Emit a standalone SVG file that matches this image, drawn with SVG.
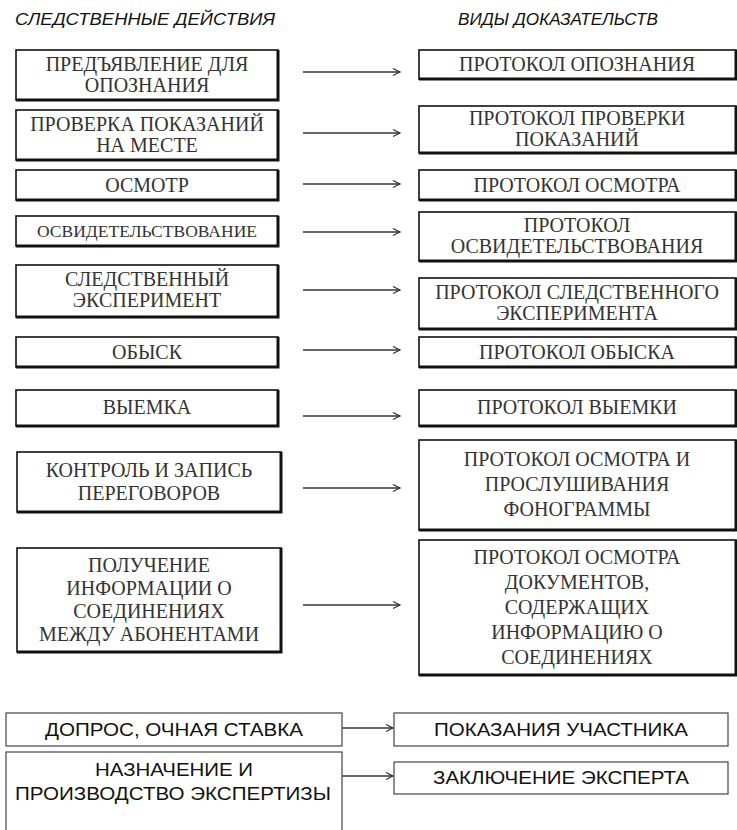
<svg xmlns="http://www.w3.org/2000/svg" width="737" height="830" viewBox="0 0 737 830">
<defs>
<marker id="ah" markerWidth="10" markerHeight="10" refX="8" refY="4" orient="auto" markerUnits="userSpaceOnUse">
<path d="M1,0.5 L8,4 L1,7.5" fill="none" stroke="#333" stroke-width="1.2"/>
</marker>
</defs>
<style>
.bx{fill:#fff;stroke:#111;stroke-width:1.6}
.sh{fill:none;stroke:#111;stroke-width:3}
.bx2{fill:#fff;stroke:#444;stroke-width:1.2}
.t{font-family:"Liberation Serif","Times New Roman",serif;font-size:20px;fill:#333;text-anchor:middle}
.s{font-family:"Liberation Sans",Arial,sans-serif;font-size:18px;fill:#111;text-anchor:middle}
.h{font-family:"Liberation Sans",Arial,sans-serif;font-size:17px;font-style:italic;fill:#111}
.c{stroke:#333;stroke-width:1.3;fill:none;marker-end:url(#ah)}
</style>
<rect width="737" height="830" fill="#fff"/>
<text class="h" x="15" y="25" textLength="260" lengthAdjust="spacingAndGlyphs">СЛЕДСТВЕННЫЕ ДЕЙСТВИЯ</text>
<text class="h" x="458" y="25" textLength="200" lengthAdjust="spacingAndGlyphs">ВИДЫ ДОКАЗАТЕЛЬСТВ</text>

<g id="connectors">
<line class="c" x1="303" y1="72" x2="400" y2="72"/>
<line class="c" x1="303" y1="133" x2="400" y2="133"/>
<line class="c" x1="303" y1="184" x2="400" y2="184"/>
<line class="c" x1="303" y1="232" x2="400" y2="232"/>
<line class="c" x1="303" y1="290" x2="400" y2="290"/>
<line class="c" x1="303" y1="350" x2="400" y2="350"/>
<line class="c" x1="303" y1="416" x2="400" y2="416"/>
<line class="c" x1="303" y1="488" x2="400" y2="488"/>
<line class="c" x1="303" y1="605" x2="400" y2="605"/>
<line class="c" x1="342" y1="728" x2="393" y2="728"/>
<line class="c" x1="342" y1="776" x2="393" y2="776"/>
</g>

<g id="l1"><rect class="bx" x="16" y="50" width="262" height="50"/><path class="sh" d="M278,50 V100 H16"/>
<text class="t" x="147" y="71">ПРЕДЪЯВЛЕНИЕ ДЛЯ</text><text class="t" x="147" y="92">ОПОЗНАНИЯ</text></g>
<g id="r1"><rect class="bx" x="419" y="50" width="317" height="29"/><path class="sh" d="M736,50 V79 H419"/>
<text class="t" x="577" y="71">ПРОТОКОЛ ОПОЗНАНИЯ</text></g>

<g id="l2"><rect class="bx" x="16" y="110" width="262" height="50"/><path class="sh" d="M278,110 V160 H16"/>
<text class="t" x="147" y="131">ПРОВЕРКА ПОКАЗАНИЙ</text><text class="t" x="147" y="152">НА МЕСТЕ</text></g>
<g id="r2"><rect class="bx" x="419" y="106" width="317" height="47"/><path class="sh" d="M736,106 V153 H419"/>
<text class="t" x="577" y="125">ПРОТОКОЛ ПРОВЕРКИ</text><text class="t" x="577" y="146">ПОКАЗАНИЙ</text></g>

<g id="l3"><rect class="bx" x="16" y="170" width="262" height="30"/><path class="sh" d="M278,170 V200 H16"/>
<text class="t" x="147" y="192">ОСМОТР</text></g>
<g id="r3"><rect class="bx" x="419" y="170" width="317" height="30"/><path class="sh" d="M736,170 V200 H419"/>
<text class="t" x="577" y="192">ПРОТОКОЛ ОСМОТРА</text></g>

<g id="l4"><rect class="bx" x="16" y="216" width="262" height="30"/><path class="sh" d="M278,216 V246 H16"/>
<text class="t" x="147" y="237" style="font-size:17.5px">ОСВИДЕТЕЛЬСТВОВАНИЕ</text></g>
<g id="r4"><rect class="bx" x="419" y="212" width="317" height="49"/><path class="sh" d="M736,212 V261 H419"/>
<text class="t" x="577" y="232">ПРОТОКОЛ</text><text class="t" x="577" y="253">ОСВИДЕТЕЛЬСТВОВАНИЯ</text></g>

<g id="l5"><rect class="bx" x="16" y="265" width="262" height="52"/><path class="sh" d="M278,265 V317 H16"/>
<text class="t" x="147" y="286">СЛЕДСТВЕННЫЙ</text><text class="t" x="147" y="307">ЭКСПЕРИМЕНТ</text></g>
<g id="r5"><rect class="bx" x="419" y="278" width="317" height="51"/><path class="sh" d="M736,278 V329 H419"/>
<text class="t" x="577" y="299">ПРОТОКОЛ СЛЕДСТВЕННОГО</text><text class="t" x="577" y="320">ЭКСПЕРИМЕНТА</text></g>

<g id="l6"><rect class="bx" x="16" y="337" width="262" height="30"/><path class="sh" d="M278,337 V367 H16"/>
<text class="t" x="147" y="359">ОБЫСК</text></g>
<g id="r6"><rect class="bx" x="419" y="337" width="317" height="30"/><path class="sh" d="M736,337 V367 H419"/>
<text class="t" x="577" y="359">ПРОТОКОЛ ОБЫСКА</text></g>

<g id="l7"><rect class="bx" x="16" y="390" width="262" height="36"/><path class="sh" d="M278,390 V426 H16"/>
<text class="t" x="147" y="414">ВЫЕМКА</text></g>
<g id="r7"><rect class="bx" x="419" y="390" width="317" height="36"/><path class="sh" d="M736,390 V426 H419"/>
<text class="t" x="577" y="414">ПРОТОКОЛ ВЫЕМКИ</text></g>

<g id="l8"><rect class="bx" x="17" y="452" width="264" height="60"/><path class="sh" d="M281,452 V512 H17"/>
<text class="t" x="149" y="477">КОНТРОЛЬ И ЗАПИСЬ</text><text class="t" x="149" y="500">ПЕРЕГОВОРОВ</text></g>
<g id="r8"><rect class="bx" x="419" y="440" width="317" height="90"/><path class="sh" d="M736,440 V530 H419"/>
<text class="t" x="577" y="466">ПРОТОКОЛ ОСМОТРА И</text><text class="t" x="577" y="491">ПРОСЛУШИВАНИЯ</text><text class="t" x="577" y="516">ФОНОГРАММЫ</text></g>

<g id="l9"><rect class="bx" x="17" y="548" width="264" height="104"/><path class="sh" d="M281,548 V652 H17"/>
<text class="t" x="149" y="572">ПОЛУЧЕНИЕ</text><text class="t" x="149" y="595">ИНФОРМАЦИИ О</text><text class="t" x="149" y="618">СОЕДИНЕНИЯХ</text><text class="t" x="149" y="641">МЕЖДУ АБОНЕНТАМИ</text></g>
<g id="r9"><rect class="bx" x="419" y="540" width="317" height="135"/><path class="sh" d="M736,540 V675 H419"/>
<text class="t" x="577" y="564">ПРОТОКОЛ ОСМОТРА</text><text class="t" x="577" y="589">ДОКУМЕНТОВ,</text><text class="t" x="577" y="614">СОДЕРЖАЩИХ</text><text class="t" x="577" y="639">ИНФОРМАЦИЮ О</text><text class="t" x="577" y="664">СОЕДИНЕНИЯХ</text></g>

<g id="b1"><rect class="bx2" x="6" y="713" width="336" height="33"/>
<text class="s" x="174" y="736" textLength="258" lengthAdjust="spacingAndGlyphs">ДОПРОС, ОЧНАЯ СТАВКА</text></g>
<g id="b2"><rect class="bx2" x="394" y="713" width="334" height="33"/>
<text class="s" x="561" y="736" textLength="254" lengthAdjust="spacingAndGlyphs">ПОКАЗАНИЯ УЧАСТНИКА</text></g>
<g id="b3"><rect class="bx2" x="6" y="752" width="336" height="90"/>
<text class="s" x="174" y="776" textLength="158" lengthAdjust="spacingAndGlyphs">НАЗНАЧЕНИЕ И</text><text class="s" x="173" y="800" textLength="316" lengthAdjust="spacingAndGlyphs">ПРОИЗВОДСТВО ЭКСПЕРТИЗЫ</text></g>
<g id="b4"><rect class="bx2" x="394" y="762" width="334" height="32"/>
<text class="s" x="561" y="784" textLength="256" lengthAdjust="spacingAndGlyphs">ЗАКЛЮЧЕНИЕ ЭКСПЕРТА</text></g>
</svg>
